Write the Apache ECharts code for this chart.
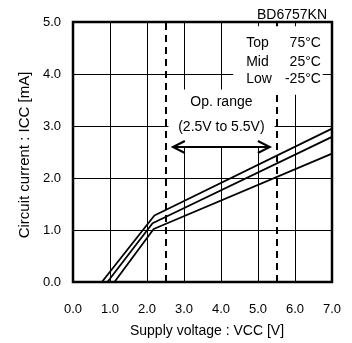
<!DOCTYPE html>
<html><head><meta charset="utf-8">
<script src="https://cdn.jsdelivr.net/npm/echarts@6/dist/echarts.min.js"></script>
<style>html,body{margin:0;padding:0;background:#fff}#c{width:352px;height:343px}</style>
</head><body><div id="c"></div>
<script>
var xTicks = [0,1,2,3,4,5,6,7];
var yTicks = [0,1,2,3,4,5];
var topSeries = [[0.78,0],[2.2,1.28],[7.0,2.95]];
var midSeries = [[0.93,0],[2.15,1.13],[7.0,2.79]];
var lowSeries = [[1.12,0],[2.18,1.02],[7.0,2.47]];
var opRange = [2.5, 5.5];
var legendRows = [['Top','75°C'],['Mid','25°C'],['Low','-25°C']];
var FONT = 'Liberation Sans';

var chart = echarts.init(document.getElementById('c'));
function line(d){return {type:'line',data:d,symbol:'none',lineStyle:{color:'#000',width:1.8},z:3};}
var opt = {
  animation:false,
  backgroundColor:'#fff',
  title:{text:'BD6757KN',right:20,top:3,textStyle:{fontFamily:FONT,fontSize:14,fontWeight:'normal',color:'#000'}},
  grid:{left:73,right:20,top:22,bottom:61,show:true,borderColor:'#000',borderWidth:2.5,backgroundColor:'transparent'},
  xAxis:{type:'value',min:0,max:7,interval:1,
    name:'Supply voltage : VCC [V]',nameLocation:'middle',nameGap:42,
    nameTextStyle:{fontFamily:FONT,fontSize:14,color:'#000',padding:[0,0,0,9]},
    axisLine:{show:false},axisTick:{show:false},
    axisLabel:{fontFamily:FONT,fontSize:13,color:'#000',margin:21,formatter:function(v){return v.toFixed(1);}},
    splitLine:{show:true,lineStyle:{color:'#000',width:1}}},
  yAxis:{type:'value',min:0,max:5,interval:1,
    name:'Circuit current : ICC [mA]',nameLocation:'middle',nameGap:40,
    nameTextStyle:{fontFamily:FONT,fontSize:15,color:'#000',padding:[0,6,0,0]},
    axisLine:{show:false},axisTick:{show:false},
    axisLabel:{fontFamily:FONT,fontSize:13,color:'#000',margin:12,formatter:function(v){return v.toFixed(1);}},
    splitLine:{show:true,lineStyle:{color:'#000',width:1}}},
  series:[
    line(topSeries), line(midSeries), line(lowSeries),
    {type:'line',data:[],markLine:{silent:true,symbol:'none',label:{show:false},
      lineStyle:{color:'#000',width:2,type:[7,5]},
      data:opRange.map(function(v){return {xAxis:v};})},z:2}
  ]
};
chart.setOption(opt);

function px(x,y){return chart.convertToPixel({gridIndex:0},[x,y]);}
var a0 = px(2.7,2.59), a1 = px(5.32,2.59);
var ay = Math.round(a0[1]);
var g = [];
// op range box
var ob0 = px(2.58,3.7), ob1 = px(5.45,2.59);
g.push({type:'rect',z:100,shape:{x:ob0[0],y:ob0[1],width:ob1[0]-ob0[0],height:ob1[1]-ob0[1]},style:{fill:'#fff'}});
// legend box
var lb0 = px(4.33,4.92), lb1 = px(6.75,3.6);
g.push({type:'rect',z:100,shape:{x:lb0[0],y:lb0[1],width:lb1[0]-lb0[0],height:lb1[1]-lb0[1]},style:{fill:'#fff'}});
var cx = (a0[0]+a1[0])/2;
g.push({type:'text',z:101,style:{text:'Op. range',x:cx,y:px(0,3.45)[1],textAlign:'center',textVerticalAlign:'middle',font:'14px '+FONT,fill:'#000'}});
g.push({type:'text',z:101,style:{text:'(2.5V to 5.5V)',x:cx,y:px(0,2.97)[1],textAlign:'center',textVerticalAlign:'middle',font:'14px '+FONT,fill:'#000'}});
g.push({type:'polyline',z:101,shape:{points:[[a0[0],ay],[a1[0],ay]]},style:{stroke:'#000',lineWidth:2,fill:null}});
g.push({type:'polyline',z:101,shape:{points:[[a0[0]+12,ay-6],[a0[0],ay],[a0[0]+12,ay+6]]},style:{stroke:'#000',lineWidth:2,fill:null}});
g.push({type:'polyline',z:101,shape:{points:[[a1[0]-12,ay-6],[a1[0],ay],[a1[0]-12,ay+6]]},style:{stroke:'#000',lineWidth:2,fill:null}});
var lx = px(4.68,0)[0], rx = px(6.7,0)[0];
var rowsY = [4.6,4.22,3.9];
legendRows.forEach(function(r,i){
  var yy = px(0,rowsY[i])[1];
  g.push({type:'text',z:101,style:{text:r[0],x:lx,y:yy,textAlign:'left',textVerticalAlign:'middle',font:'14px '+FONT,fill:'#000'}});
  g.push({type:'text',z:101,style:{text:r[1],x:rx,y:yy,textAlign:'right',textVerticalAlign:'middle',font:'14px '+FONT,fill:'#000'}});
});
chart.setOption({graphic:g});
</script></body></html>
